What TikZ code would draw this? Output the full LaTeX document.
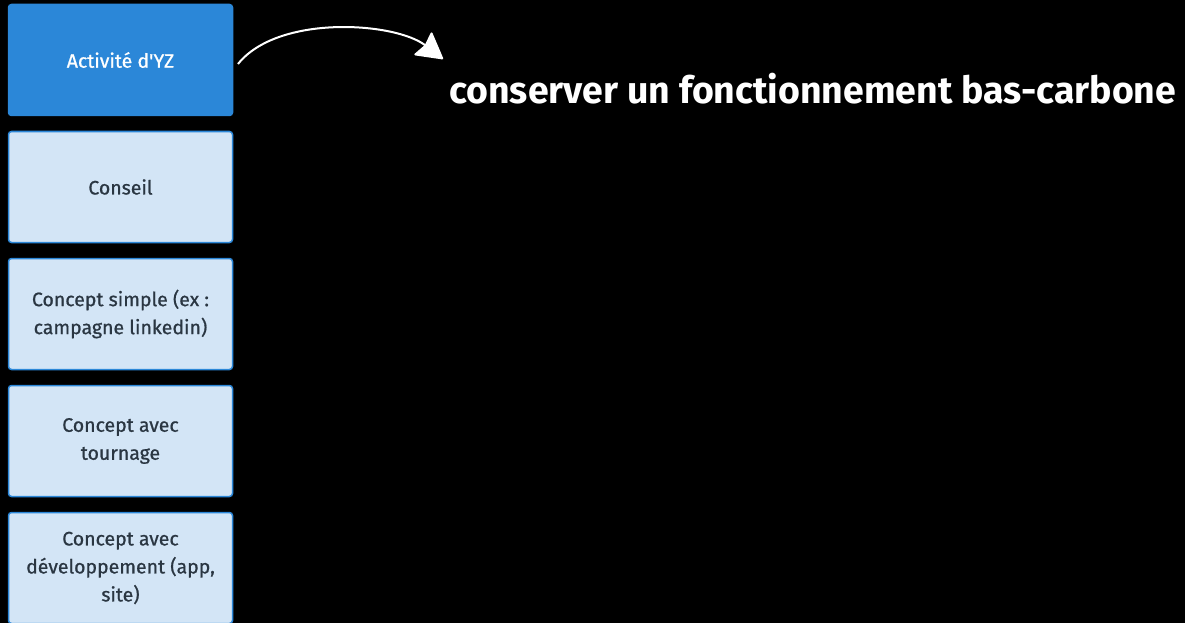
\documentclass[tikz,border=0pt]{standalone}
\usepackage{fontspec}
\setmainfont{Fira Sans}
\newfontfamily\boxfont{Fira Sans}[FakeBold=0.8,Ligatures=TeXOff]
\usetikzlibrary{arrows.meta}
\definecolor{dkblue}{HTML}{2B87D8}
\definecolor{ltblue}{HTML}{D3E5F6}
\definecolor{txtgray}{HTML}{2A3642}
\tikzset{
  box/.style={draw=dkblue, line width=1.5pt, rounded corners=3pt, minimum width=224pt, minimum height=111pt, align=center, inner sep=2pt, font=\boxfont\fontsize{19.5}{28}\selectfont},
  mainbox/.style={box, fill=dkblue, text=white},
  subbox/.style={box, fill=ltblue, text=txtgray},
  bigtext/.style={text=white, anchor=base west, inner sep=0pt, font=\bfseries\fontsize{40}{44}\selectfont},
  curvearrow/.style={draw=white, line width=2pt, -{Stealth[length=27pt,width=30pt,inset=3pt,round]}}
}
\begin{document}
\begin{tikzpicture}[x=1pt,y=-1pt]
\fill[black] (0,0) rectangle (1185,623);
\useasboundingbox (0,0) rectangle (1185,623);
\node[mainbox] (a) at (120.5,60) {Activité d'YZ};
\node[subbox] (b) at (120.5,187) {Conseil};
\node[subbox] (c) at (120.5,314) {Concept simple (ex :\\campagne linkedin)};
\node[subbox] (d) at (120.5,441) {Concept avec\\tournage};
\node[subbox] (e) at (120.5,568) {Concept avec\\développement (app,\\site)};
\node[bigtext] (t) at (449,103) {\resizebox{727pt}{!}{conserver un fonctionnement bas-carbone}};
\coordinate (s) at (238,64);
\coordinate (tip) at (443,59);
\draw[curvearrow] (s) .. controls (278,14) and (395,22) .. (tip);
\end{tikzpicture}
\end{document}
